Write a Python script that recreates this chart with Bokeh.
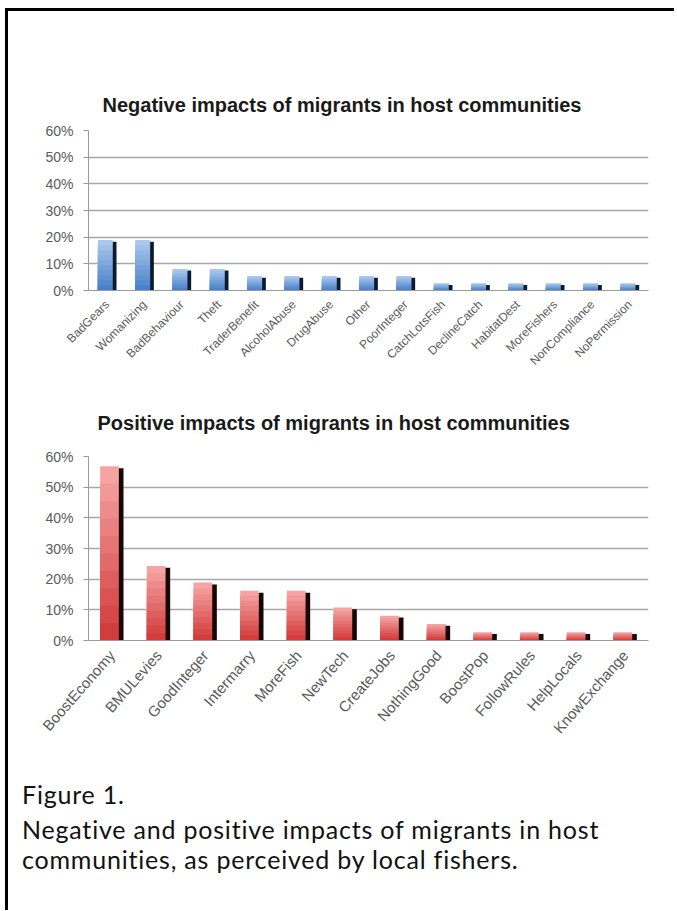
from bokeh.plotting import figure
from bokeh.layouts import column
from bokeh.models import Range1d, FixedTicker, NumeralTickFormatter, Div
from bokeh.transform import dodge
from bokeh.embed import file_html
from bokeh.resources import INLINE

# ---- data ----
neg_categories = ["BadGears", "Womanizing", "BadBehaviour", "Theft", "TraderBenefit",
                  "AlcoholAbuse", "DrugAbuse", "Other", "PoorInteger", "CatchLotsFish",
                  "DeclineCatch", "HabitatDest", "MoreFishers", "NonCompliance", "NoPermission"]
neg_values = [0.189, 0.189, 0.081, 0.081, 0.054, 0.054, 0.054, 0.054, 0.054,
              0.027, 0.027, 0.027, 0.027, 0.027, 0.027]

pos_categories = ["BoostEconomy", "BMULevies", "GoodInteger", "Intermarry", "MoreFish",
                  "NewTech", "CreateJobs", "NothingGood", "BoostPop", "FollowRules",
                  "HelpLocals", "KnowExchange"]
pos_values = [0.568, 0.243, 0.189, 0.162, 0.162, 0.108, 0.081, 0.054,
              0.027, 0.027, 0.027, 0.027]

y_ticks = [0, 0.1, 0.2, 0.3, 0.4, 0.5, 0.6]

neg_title = "Negative impacts of migrants in host communities"
pos_title = "Positive impacts of migrants in host communities"
caption_head = "Figure 1."
caption_lines = ["Negative and positive impacts of migrants in host",
                 "communities, as perceived by local fishers."]


def lerp(c1, c2, t):
    a = [int(c1[i:i + 2], 16) for i in (1, 3, 5)]
    b = [int(c2[i:i + 2], 16) for i in (1, 3, 5)]
    return "#" + "".join("%02x" % round(a[j] + (b[j] - a[j]) * t) for j in range(3))


def make_chart(cats, vals, title, width, height, borders, top_col, bot_col, shadow_col,
               label_size, label_angle, title_offset, title_standoff):
    p = figure(x_range=cats, y_range=Range1d(0, 0.6), width=width, height=height,
               output_backend="svg", toolbar_location=None, tools="",
               min_border_left=borders[0], min_border_right=borders[1],
               min_border_top=borders[2], min_border_bottom=borders[3])
    p.title.text = title
    p.title.text_font = "Liberation Sans"
    p.title.text_font_style = "bold"
    p.title.text_font_size = "20px"
    p.title.text_color = "#1a1a1a"
    p.title.align = "left"
    p.title.offset = title_offset
    p.title.standoff = title_standoff
    # gradient: full bar in the light top colour, overlaid by shorter, darker bars
    n = 10
    for k in range(n):
        frac = (n - k) / n
        col = lerp(top_col, bot_col, k / (n - 1))
        p.vbar(x=dodge("x", -0.05, range=p.x_range), top="t", width=0.4,
               source=dict(x=cats, t=[v * frac for v in vals]),
               fill_color=col, line_color=None)
    # dark side (3-D shadow)
    p.vbar(x=dodge("x", 0.2, range=p.x_range), top="t", width=0.1,
           source=dict(x=cats, t=[v - 0.006 for v in vals]),
           fill_color=shadow_col, line_color=None)

    p.yaxis.ticker = FixedTicker(ticks=y_ticks)
    p.yaxis.formatter = NumeralTickFormatter(format="0%")
    p.yaxis.major_label_text_font = "Liberation Sans"
    p.yaxis.major_label_text_font_size = "14px"
    p.yaxis.major_label_text_color = "#5a5a5a"
    p.yaxis.axis_line_color = "#9a9a9a"
    p.yaxis.major_tick_line_color = "#9a9a9a"
    p.yaxis.major_tick_out = 5
    p.yaxis.major_tick_in = 0
    p.yaxis.minor_tick_line_color = None
    p.yaxis.major_label_standoff = 10

    p.xaxis.major_label_orientation = label_angle
    p.xaxis.major_label_text_font = "Liberation Sans"
    p.xaxis.major_label_text_font_size = label_size
    p.xaxis.major_label_text_color = "#5a5a5a"
    p.xaxis.axis_line_color = "#9a9a9a"
    p.xaxis.major_tick_line_color = None
    p.xaxis.major_label_standoff = 6

    p.ygrid.ticker = FixedTicker(ticks=y_ticks)
    p.ygrid.grid_line_color = "#a8a8a8"
    p.ygrid.grid_line_width = 1.6
    p.xgrid.grid_line_color = None
    p.outline_line_color = None
    p.background_fill_color = "white"
    p.border_fill_color = "white"
    return p


top = make_chart(neg_categories, neg_values, neg_title, 664, 365, (74, 19, 119, 86),
                 "#a9c8ee", "#4a80c8", "#0c1a30", "12px", 0.785, 14, 29)
bottom = make_chart(pos_categories, pos_values, pos_title, 664, 384, (80, 24, 80, 120),
                    "#f6a3a3", "#d23c3c", "#1a0505", "15px", 0.85, 9, 46)

cap = Div(text=(
    '<div style="font-family:Lato;font-size:25px;line-height:30px;color:#111;'
    'letter-spacing:0.8px;padding-left:9px;padding-top:14px;white-space:nowrap;">'
    + caption_head + '<div style="margin-top:5px;">' + caption_lines[0] + '<br>'
    + caption_lines[1] + '</div></div>'), width=664, height=140)

layout = column(top, bottom, cap, width=669,
                styles={"border-left": "3px solid black", "border-top": "3px solid black",
                        "border-right": "0px none white", "border-bottom": "0px none white",
                        "overflow": "hidden", "box-shadow": "none", "outline": "none",
                        "position": "absolute", "left": "5px", "top": "8px"})

open("out.html", "w").write(file_html(layout, INLINE))
